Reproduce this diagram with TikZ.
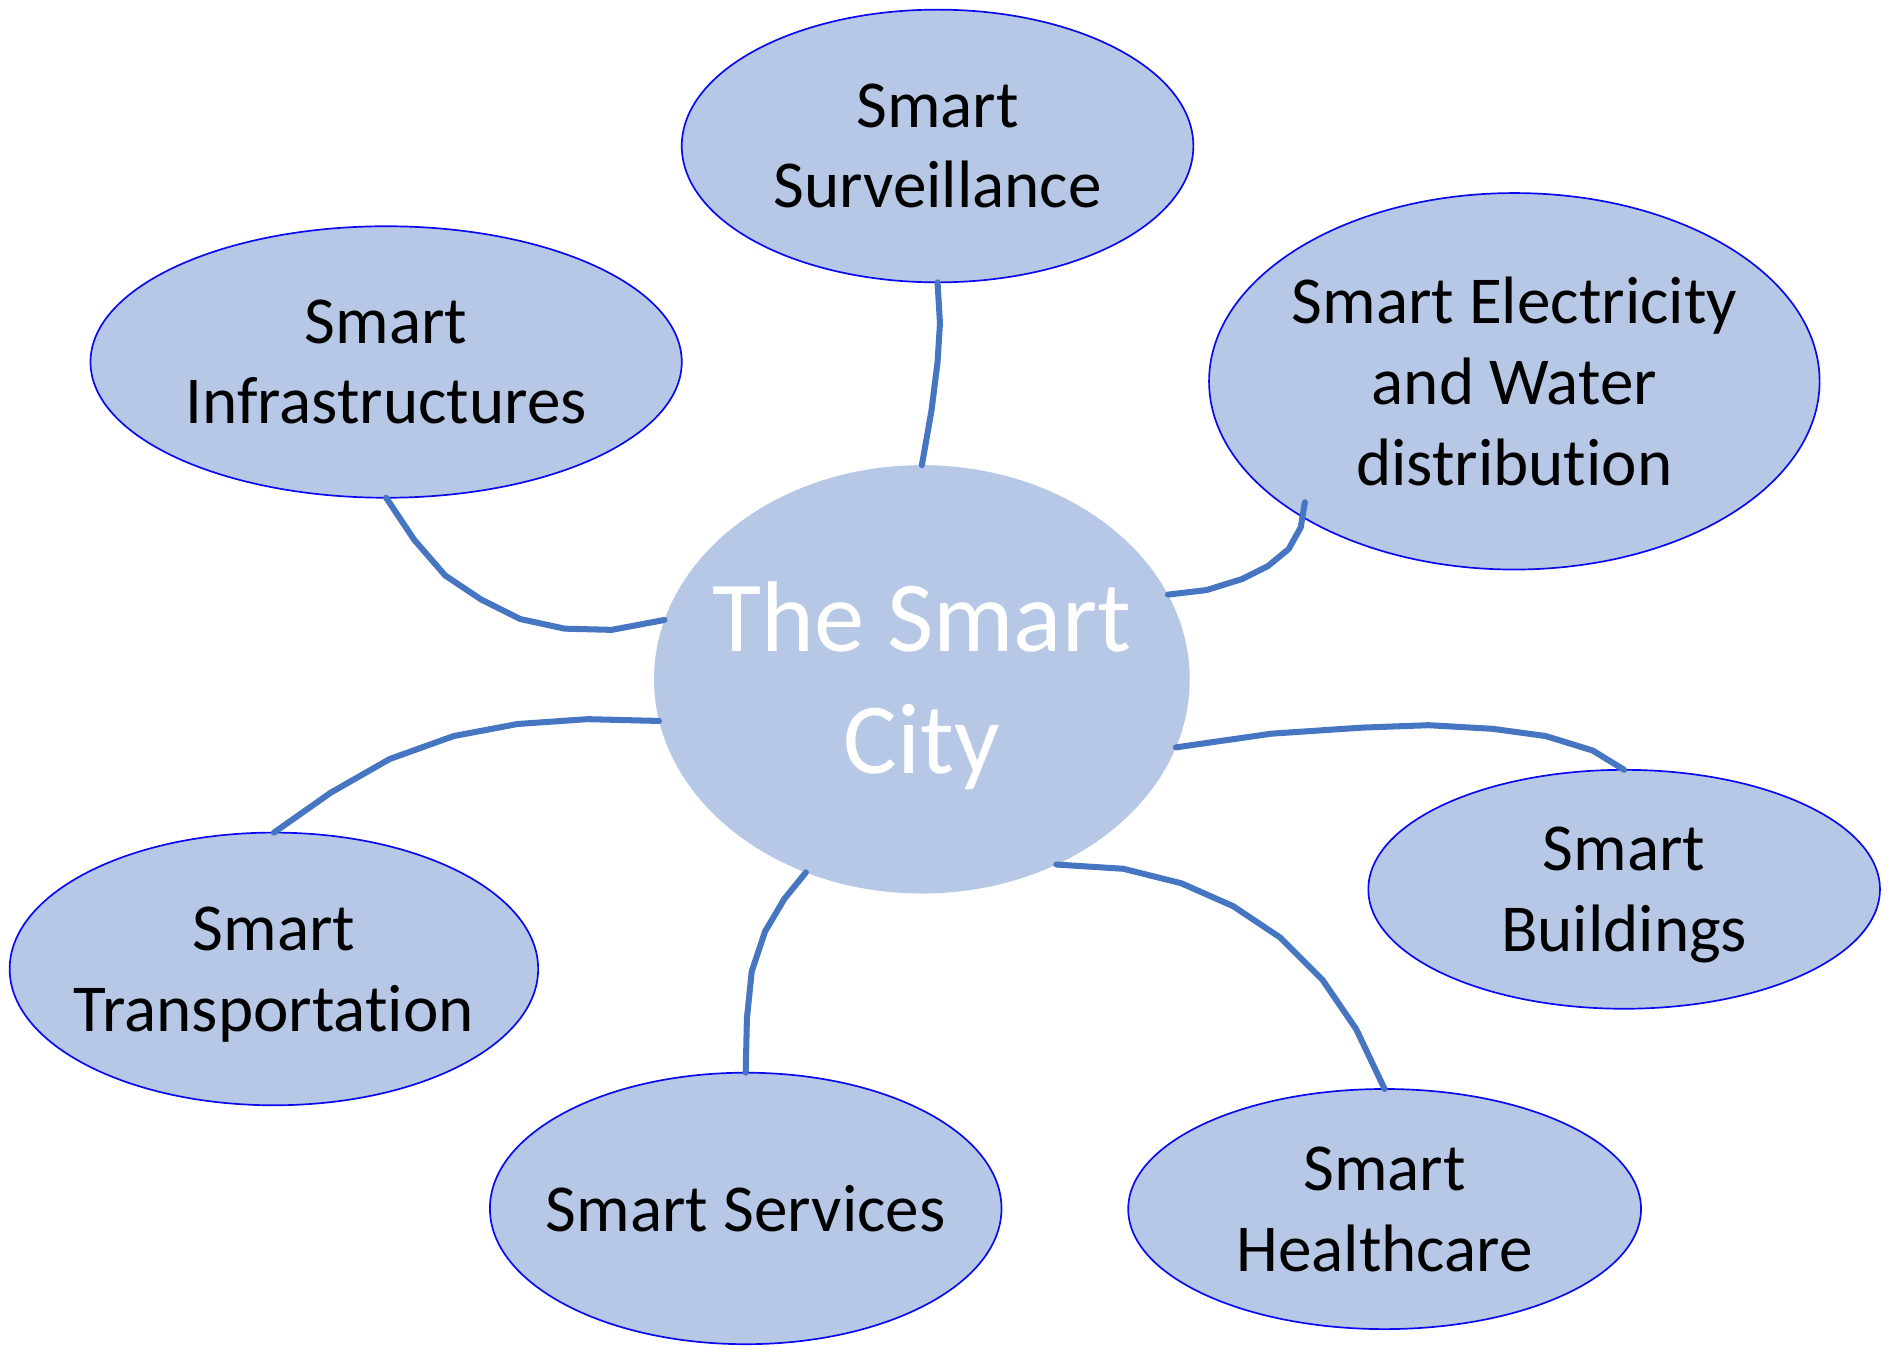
\documentclass[tikz,border=0pt]{standalone}
\usepackage{fontspec}
\setmainfont{Carlito}[Ligatures={NoCommon,NoContextual},RawFeature={-liga;-clig;-calt;-dlig}]
\usetikzlibrary{shapes.geometric,calc}
\definecolor{bubblefill}{RGB}{182,200,229}
\definecolor{linkblue}{RGB}{70,117,193}
\definecolor{edgeblue}{RGB}{10,10,240}
\begin{document}
\begin{tikzpicture}[x=0.5pt,y=-0.5pt,
  bubble/.style={ellipse, draw=edgeblue, line width=0.7pt, fill=bubblefill, inner sep=0pt, outer sep=0pt},
  hub/.style={ellipse, fill=bubblefill, inner sep=0pt, outer sep=0pt},
  lbl/.style={align=center, font=\fontsize{27.8}{33.5}\selectfont, text=black, yshift=0pt, inner sep=0pt},
  hubtext/.style={align=center, font=\fontsize{41.7}{50.5}\selectfont, text=white, yshift=-2.5pt, inner sep=0pt},
  link/.style={draw=linkblue, line width=2.5pt, line join=round, line cap=round}]
\useasboundingbox (0,0) rectangle (1568,1124);
% bubbles
\node[bubble, minimum width=212pt, minimum height=113pt] (surv) at (777,121) {};
\node[bubble, minimum width=245pt, minimum height=112.5pt] (infra) at (320,300) {};
\node[bubble, minimum width=253pt, minimum height=156pt] (elec) at (1255,316) {};
\node[hub, minimum width=222pt, minimum height=177.5pt] (city) at (764,563) {};
\node[bubble, minimum width=219pt, minimum height=113pt] (trans) at (227,803) {};
\node[bubble, minimum width=212pt, minimum height=112.5pt] (serv) at (618,1001.5) {};
\node[bubble, minimum width=212.5pt, minimum height=99.5pt] (health) at (1147.5,1002) {};
\node[bubble, minimum width=212pt, minimum height=99pt] (build) at (1346,737) {};
% labels
\node[lbl] (survt) at (surv) {Smart\\Surveillance};
\node[lbl] (infrat) at (infra) {Smart\\Infrastructures};
\node[lbl] (elect) at (elec) {Smart Electricity\\and Water\\distribution};
\node[hubtext] (cityt) at (city) {The Smart\\City};
\node[lbl, yshift=-2.5pt] (transt) at (trans) {Smart\\Transportation};
\node[lbl] (servt) at (serv) {Smart Services};
\node[lbl] (healtht) at (health) {Smart\\Healthcare};
\node[lbl, yshift=-2.5pt] (buildt) at (build) {Smart\\Buildings};
% connectors
\draw[link] (surv.south) -- (779,268) -- (777,300) -- (772,340) -- (city.north);
\draw[link] (infra.south) -- (343,447) -- (369,477) -- (399,497) -- (431,513) -- (468,521) -- (507,522) -- (city.167.2);
\draw[link] (city.19.1) -- (1000,489) -- (1029,480) -- (1051,469) -- (1068,455) -- (1078,437) -- ($(elec.center)!0.94!(elec.210.4)$);
\draw[link] (trans.north) -- (274,657) -- (323,629) -- (376,610) -- (429,600) -- (487,596) -- (city.189.5);
\draw[link] (serv.north) -- (619,844) -- (623,805) -- (634,772) -- (650,745) -- (city.239.8);
\draw[link] (city.345.5) -- (1054,608) -- (1129,603) -- (1184,601) -- (1237,604) -- (1281,610) -- (1320,622) -- (build.north);
\draw[link] (city.306.9) -- (931,720) -- (979,732) -- (1022,751) -- (1061,777) -- (1096,812) -- (1124,853) -- (health.north);
\end{tikzpicture}
\end{document}
